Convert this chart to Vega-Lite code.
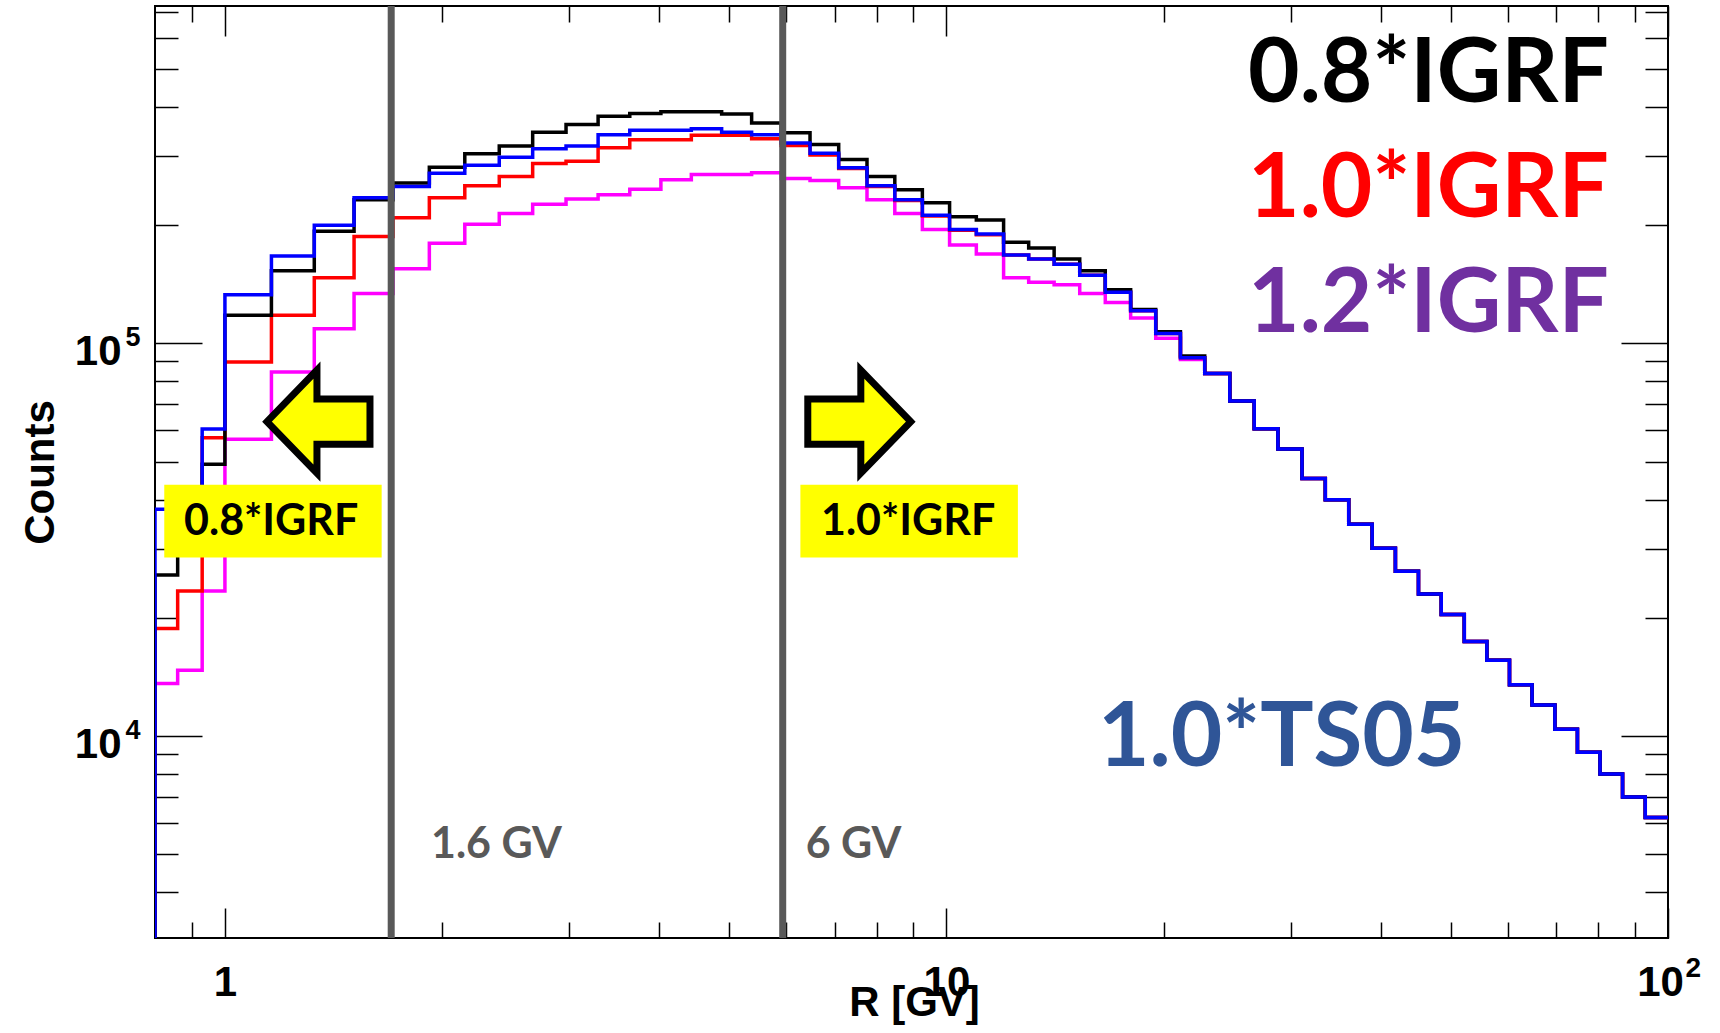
{
"$schema": "https://vega.github.io/schema/vega-lite/v6.json",
"width": 1513, "height": 932,
"autosize": {"type": "none"},
"padding": {"left": 155, "top": 6, "right": 52, "bottom": 95},
"background": "#ffffff",
"config": {"view": {"stroke": "#000000", "strokeWidth": 2}, "axis": {"grid": false, "domain": false, "tickColor": "#000000", "tickWidth": 1.5}},
"datasets": {
"hist": [
{"s":"1.2*IGRF","lo":0.8,"hi":0.86,"n":13600},{"s":"1.2*IGRF","lo":0.86,"hi":0.93,"n":14700},{"s":"1.2*IGRF","lo":0.93,"hi":1,"n":23400},{"s":"1.2*IGRF","lo":1,"hi":1.16,"n":57000},{"s":"1.2*IGRF","lo":1.16,"hi":1.33,"n":84600},{"s":"1.2*IGRF","lo":1.33,"hi":1.51,"n":109000},{"s":"1.2*IGRF","lo":1.51,"hi":1.71,"n":134000},{"s":"1.2*IGRF","lo":1.71,"hi":1.92,"n":155000},{"s":"1.2*IGRF","lo":1.92,"hi":2.15,"n":180000},{"s":"1.2*IGRF","lo":2.15,"hi":2.4,"n":201000},{"s":"1.2*IGRF","lo":2.4,"hi":2.67,"n":214000},{"s":"1.2*IGRF","lo":2.67,"hi":2.97,"n":226000},{"s":"1.2*IGRF","lo":2.97,"hi":3.29,"n":233000},{"s":"1.2*IGRF","lo":3.29,"hi":3.64,"n":239000},{"s":"1.2*IGRF","lo":3.64,"hi":4.02,"n":247000},{"s":"1.2*IGRF","lo":4.02,"hi":4.43,"n":261000},{"s":"1.2*IGRF","lo":4.43,"hi":4.88,"n":269000},{"s":"1.2*IGRF","lo":4.88,"hi":5.37,"n":269000},{"s":"1.2*IGRF","lo":5.37,"hi":5.9,"n":272000},{"s":"1.2*IGRF","lo":5.9,"hi":6.47,"n":263000},{"s":"1.2*IGRF","lo":6.47,"hi":7.09,"n":260000},{"s":"1.2*IGRF","lo":7.09,"hi":7.76,"n":249000},{"s":"1.2*IGRF","lo":7.76,"hi":8.48,"n":232000},{"s":"1.2*IGRF","lo":8.48,"hi":9.26,"n":214000},{"s":"1.2*IGRF","lo":9.26,"hi":10.1,"n":195000},{"s":"1.2*IGRF","lo":10.1,"hi":11,"n":178000},{"s":"1.2*IGRF","lo":11,"hi":12,"n":169000},{"s":"1.2*IGRF","lo":12,"hi":13,"n":147000},{"s":"1.2*IGRF","lo":13,"hi":14.1,"n":143000},{"s":"1.2*IGRF","lo":14.1,"hi":15.3,"n":141000},{"s":"1.2*IGRF","lo":15.3,"hi":16.6,"n":134000},{"s":"1.2*IGRF","lo":16.6,"hi":18,"n":127000},{"s":"1.2*IGRF","lo":18,"hi":19.5,"n":116000},{"s":"1.2*IGRF","lo":19.5,"hi":21.1,"n":103000},{"s":"1.2*IGRF","lo":21.1,"hi":22.8,"n":91000},{"s":"1.2*IGRF","lo":22.8,"hi":24.7,"n":83800},{"s":"1.2*IGRF","lo":24.7,"hi":26.7,"n":71300},{"s":"1.2*IGRF","lo":26.7,"hi":28.8,"n":60600},{"s":"1.2*IGRF","lo":28.8,"hi":31.1,"n":53800},{"s":"1.2*IGRF","lo":31.1,"hi":33.5,"n":45300},{"s":"1.2*IGRF","lo":33.5,"hi":36.1,"n":40000},{"s":"1.2*IGRF","lo":36.1,"hi":38.9,"n":34600},{"s":"1.2*IGRF","lo":38.9,"hi":41.9,"n":30100},{"s":"1.2*IGRF","lo":41.9,"hi":45.1,"n":26300},{"s":"1.2*IGRF","lo":45.1,"hi":48.5,"n":23000},{"s":"1.2*IGRF","lo":48.5,"hi":52.2,"n":20400},{"s":"1.2*IGRF","lo":52.2,"hi":56.1,"n":17400},{"s":"1.2*IGRF","lo":56.1,"hi":60.3,"n":15600},{"s":"1.2*IGRF","lo":60.3,"hi":64.8,"n":13500},{"s":"1.2*IGRF","lo":64.8,"hi":69.7,"n":12000},{"s":"1.2*IGRF","lo":69.7,"hi":74.9,"n":10400},{"s":"1.2*IGRF","lo":74.9,"hi":80.5,"n":9100},{"s":"1.2*IGRF","lo":80.5,"hi":86.5,"n":8000},{"s":"1.2*IGRF","lo":86.5,"hi":93,"n":7000},{"s":"1.2*IGRF","lo":93,"hi":100,"n":6200},
{"s":"1.0*IGRF","lo":0.8,"hi":0.86,"n":18800},{"s":"1.0*IGRF","lo":0.86,"hi":0.93,"n":23400},{"s":"1.0*IGRF","lo":0.93,"hi":1,"n":57500},{"s":"1.0*IGRF","lo":1,"hi":1.16,"n":89700},{"s":"1.0*IGRF","lo":1.16,"hi":1.33,"n":118000},{"s":"1.0*IGRF","lo":1.33,"hi":1.51,"n":147000},{"s":"1.0*IGRF","lo":1.51,"hi":1.71,"n":187000},{"s":"1.0*IGRF","lo":1.71,"hi":1.92,"n":209000},{"s":"1.0*IGRF","lo":1.92,"hi":2.15,"n":235000},{"s":"1.0*IGRF","lo":2.15,"hi":2.4,"n":252000},{"s":"1.0*IGRF","lo":2.4,"hi":2.67,"n":266000},{"s":"1.0*IGRF","lo":2.67,"hi":2.97,"n":287000},{"s":"1.0*IGRF","lo":2.97,"hi":3.29,"n":291000},{"s":"1.0*IGRF","lo":3.29,"hi":3.64,"n":315000},{"s":"1.0*IGRF","lo":3.64,"hi":4.02,"n":330000},{"s":"1.0*IGRF","lo":4.02,"hi":4.43,"n":330000},{"s":"1.0*IGRF","lo":4.43,"hi":4.88,"n":339000},{"s":"1.0*IGRF","lo":4.88,"hi":5.37,"n":339000},{"s":"1.0*IGRF","lo":5.37,"hi":5.9,"n":332000},{"s":"1.0*IGRF","lo":5.9,"hi":6.47,"n":319000},{"s":"1.0*IGRF","lo":6.47,"hi":7.09,"n":302000},{"s":"1.0*IGRF","lo":7.09,"hi":7.76,"n":279000},{"s":"1.0*IGRF","lo":7.76,"hi":8.48,"n":251000},{"s":"1.0*IGRF","lo":8.48,"hi":9.26,"n":231000},{"s":"1.0*IGRF","lo":9.26,"hi":10.1,"n":211000},{"s":"1.0*IGRF","lo":10.1,"hi":11,"n":194000},{"s":"1.0*IGRF","lo":11,"hi":12,"n":189000},{"s":"1.0*IGRF","lo":12,"hi":13,"n":168000},{"s":"1.0*IGRF","lo":13,"hi":14.1,"n":164000},{"s":"1.0*IGRF","lo":14.1,"hi":15.3,"n":159000},{"s":"1.0*IGRF","lo":15.3,"hi":16.6,"n":149000},{"s":"1.0*IGRF","lo":16.6,"hi":18,"n":135000},{"s":"1.0*IGRF","lo":18,"hi":19.5,"n":121000},{"s":"1.0*IGRF","lo":19.5,"hi":21.1,"n":106000},{"s":"1.0*IGRF","lo":21.1,"hi":22.8,"n":91900},{"s":"1.0*IGRF","lo":22.8,"hi":24.7,"n":83800},{"s":"1.0*IGRF","lo":24.7,"hi":26.7,"n":71300},{"s":"1.0*IGRF","lo":26.7,"hi":28.8,"n":60600},{"s":"1.0*IGRF","lo":28.8,"hi":31.1,"n":53800},{"s":"1.0*IGRF","lo":31.1,"hi":33.5,"n":45300},{"s":"1.0*IGRF","lo":33.5,"hi":36.1,"n":40000},{"s":"1.0*IGRF","lo":36.1,"hi":38.9,"n":34600},{"s":"1.0*IGRF","lo":38.9,"hi":41.9,"n":30100},{"s":"1.0*IGRF","lo":41.9,"hi":45.1,"n":26300},{"s":"1.0*IGRF","lo":45.1,"hi":48.5,"n":23000},{"s":"1.0*IGRF","lo":48.5,"hi":52.2,"n":20400},{"s":"1.0*IGRF","lo":52.2,"hi":56.1,"n":17400},{"s":"1.0*IGRF","lo":56.1,"hi":60.3,"n":15600},{"s":"1.0*IGRF","lo":60.3,"hi":64.8,"n":13500},{"s":"1.0*IGRF","lo":64.8,"hi":69.7,"n":12000},{"s":"1.0*IGRF","lo":69.7,"hi":74.9,"n":10400},{"s":"1.0*IGRF","lo":74.9,"hi":80.5,"n":9100},{"s":"1.0*IGRF","lo":80.5,"hi":86.5,"n":8000},{"s":"1.0*IGRF","lo":86.5,"hi":93,"n":7000},{"s":"1.0*IGRF","lo":93,"hi":100,"n":6200},
{"s":"0.8*IGRF","lo":0.8,"hi":0.86,"n":25700},{"s":"0.8*IGRF","lo":0.86,"hi":0.93,"n":36000},{"s":"0.8*IGRF","lo":0.93,"hi":1,"n":49200},{"s":"0.8*IGRF","lo":1,"hi":1.16,"n":118000},{"s":"0.8*IGRF","lo":1.16,"hi":1.33,"n":153000},{"s":"0.8*IGRF","lo":1.33,"hi":1.51,"n":193000},{"s":"0.8*IGRF","lo":1.51,"hi":1.71,"n":232000},{"s":"0.8*IGRF","lo":1.71,"hi":1.92,"n":256000},{"s":"0.8*IGRF","lo":1.92,"hi":2.15,"n":281000},{"s":"0.8*IGRF","lo":2.15,"hi":2.4,"n":304000},{"s":"0.8*IGRF","lo":2.4,"hi":2.67,"n":318000},{"s":"0.8*IGRF","lo":2.67,"hi":2.97,"n":345000},{"s":"0.8*IGRF","lo":2.97,"hi":3.29,"n":361000},{"s":"0.8*IGRF","lo":3.29,"hi":3.64,"n":379000},{"s":"0.8*IGRF","lo":3.64,"hi":4.02,"n":385000},{"s":"0.8*IGRF","lo":4.02,"hi":4.43,"n":389000},{"s":"0.8*IGRF","lo":4.43,"hi":4.88,"n":389000},{"s":"0.8*IGRF","lo":4.88,"hi":5.37,"n":384000},{"s":"0.8*IGRF","lo":5.37,"hi":5.9,"n":364000},{"s":"0.8*IGRF","lo":5.9,"hi":6.47,"n":344000},{"s":"0.8*IGRF","lo":6.47,"hi":7.09,"n":321000},{"s":"0.8*IGRF","lo":7.09,"hi":7.76,"n":294000},{"s":"0.8*IGRF","lo":7.76,"hi":8.48,"n":266000},{"s":"0.8*IGRF","lo":8.48,"hi":9.26,"n":246000},{"s":"0.8*IGRF","lo":9.26,"hi":10.1,"n":228000},{"s":"0.8*IGRF","lo":10.1,"hi":11,"n":210000},{"s":"0.8*IGRF","lo":11,"hi":12,"n":206000},{"s":"0.8*IGRF","lo":12,"hi":13,"n":181000},{"s":"0.8*IGRF","lo":13,"hi":14.1,"n":175000},{"s":"0.8*IGRF","lo":14.1,"hi":15.3,"n":164000},{"s":"0.8*IGRF","lo":15.3,"hi":16.6,"n":153000},{"s":"0.8*IGRF","lo":16.6,"hi":18,"n":137000},{"s":"0.8*IGRF","lo":18,"hi":19.5,"n":122000},{"s":"0.8*IGRF","lo":19.5,"hi":21.1,"n":107000},{"s":"0.8*IGRF","lo":21.1,"hi":22.8,"n":92800},{"s":"0.8*IGRF","lo":22.8,"hi":24.7,"n":83800},{"s":"0.8*IGRF","lo":24.7,"hi":26.7,"n":71300},{"s":"0.8*IGRF","lo":26.7,"hi":28.8,"n":60600},{"s":"0.8*IGRF","lo":28.8,"hi":31.1,"n":53800},{"s":"0.8*IGRF","lo":31.1,"hi":33.5,"n":45300},{"s":"0.8*IGRF","lo":33.5,"hi":36.1,"n":40000},{"s":"0.8*IGRF","lo":36.1,"hi":38.9,"n":34600},{"s":"0.8*IGRF","lo":38.9,"hi":41.9,"n":30100},{"s":"0.8*IGRF","lo":41.9,"hi":45.1,"n":26300},{"s":"0.8*IGRF","lo":45.1,"hi":48.5,"n":23000},{"s":"0.8*IGRF","lo":48.5,"hi":52.2,"n":20400},{"s":"0.8*IGRF","lo":52.2,"hi":56.1,"n":17400},{"s":"0.8*IGRF","lo":56.1,"hi":60.3,"n":15600},{"s":"0.8*IGRF","lo":60.3,"hi":64.8,"n":13500},{"s":"0.8*IGRF","lo":64.8,"hi":69.7,"n":12000},{"s":"0.8*IGRF","lo":69.7,"hi":74.9,"n":10400},{"s":"0.8*IGRF","lo":74.9,"hi":80.5,"n":9100},{"s":"0.8*IGRF","lo":80.5,"hi":86.5,"n":8000},{"s":"0.8*IGRF","lo":86.5,"hi":93,"n":7000},{"s":"0.8*IGRF","lo":93,"hi":100,"n":6200},
{"s":"1.0*TS05","lo":0.8,"hi":0.86,"n":37800},{"s":"1.0*TS05","lo":0.86,"hi":0.93,"n":40000},{"s":"1.0*TS05","lo":0.93,"hi":1,"n":60500},{"s":"1.0*TS05","lo":1,"hi":1.16,"n":133000},{"s":"1.0*TS05","lo":1.16,"hi":1.33,"n":167000},{"s":"1.0*TS05","lo":1.33,"hi":1.51,"n":200000},{"s":"1.0*TS05","lo":1.51,"hi":1.71,"n":235000},{"s":"1.0*TS05","lo":1.71,"hi":1.92,"n":251000},{"s":"1.0*TS05","lo":1.92,"hi":2.15,"n":271000},{"s":"1.0*TS05","lo":2.15,"hi":2.4,"n":284000},{"s":"1.0*TS05","lo":2.4,"hi":2.67,"n":298000},{"s":"1.0*TS05","lo":2.67,"hi":2.97,"n":313000},{"s":"1.0*TS05","lo":2.97,"hi":3.29,"n":318000},{"s":"1.0*TS05","lo":3.29,"hi":3.64,"n":340000},{"s":"1.0*TS05","lo":3.64,"hi":4.02,"n":349000},{"s":"1.0*TS05","lo":4.02,"hi":4.43,"n":349000},{"s":"1.0*TS05","lo":4.43,"hi":4.88,"n":352000},{"s":"1.0*TS05","lo":4.88,"hi":5.37,"n":345000},{"s":"1.0*TS05","lo":5.37,"hi":5.9,"n":340000},{"s":"1.0*TS05","lo":5.9,"hi":6.47,"n":324000},{"s":"1.0*TS05","lo":6.47,"hi":7.09,"n":305000},{"s":"1.0*TS05","lo":7.09,"hi":7.76,"n":280000},{"s":"1.0*TS05","lo":7.76,"hi":8.48,"n":252000},{"s":"1.0*TS05","lo":8.48,"hi":9.26,"n":232000},{"s":"1.0*TS05","lo":9.26,"hi":10.1,"n":212000},{"s":"1.0*TS05","lo":10.1,"hi":11,"n":195000},{"s":"1.0*TS05","lo":11,"hi":12,"n":190000},{"s":"1.0*TS05","lo":12,"hi":13,"n":168000},{"s":"1.0*TS05","lo":13,"hi":14.1,"n":164000},{"s":"1.0*TS05","lo":14.1,"hi":15.3,"n":159000},{"s":"1.0*TS05","lo":15.3,"hi":16.6,"n":149000},{"s":"1.0*TS05","lo":16.6,"hi":18,"n":135000},{"s":"1.0*TS05","lo":18,"hi":19.5,"n":121000},{"s":"1.0*TS05","lo":19.5,"hi":21.1,"n":106000},{"s":"1.0*TS05","lo":21.1,"hi":22.8,"n":91900},{"s":"1.0*TS05","lo":22.8,"hi":24.7,"n":83800},{"s":"1.0*TS05","lo":24.7,"hi":26.7,"n":71300},{"s":"1.0*TS05","lo":26.7,"hi":28.8,"n":60600},{"s":"1.0*TS05","lo":28.8,"hi":31.1,"n":53800},{"s":"1.0*TS05","lo":31.1,"hi":33.5,"n":45300},{"s":"1.0*TS05","lo":33.5,"hi":36.1,"n":40000},{"s":"1.0*TS05","lo":36.1,"hi":38.9,"n":34600},{"s":"1.0*TS05","lo":38.9,"hi":41.9,"n":30100},{"s":"1.0*TS05","lo":41.9,"hi":45.1,"n":26300},{"s":"1.0*TS05","lo":45.1,"hi":48.5,"n":23000},{"s":"1.0*TS05","lo":48.5,"hi":52.2,"n":20400},{"s":"1.0*TS05","lo":52.2,"hi":56.1,"n":17400},{"s":"1.0*TS05","lo":56.1,"hi":60.3,"n":15600},{"s":"1.0*TS05","lo":60.3,"hi":64.8,"n":13500},{"s":"1.0*TS05","lo":64.8,"hi":69.7,"n":12000},{"s":"1.0*TS05","lo":69.7,"hi":74.9,"n":10400},{"s":"1.0*TS05","lo":74.9,"hi":80.5,"n":9100},{"s":"1.0*TS05","lo":80.5,"hi":86.5,"n":8000},{"s":"1.0*TS05","lo":86.5,"hi":93,"n":7000},{"s":"1.0*TS05","lo":93,"hi":100,"n":6200}
],
"cut": [{"R": 1.7}, {"R": 5.93}],
"cutlab": [{"t": "1.6 GV", "R": 1.93, "c": 4893}, {"t": "6 GV", "R": 6.38, "c": 4893}],
"boxes": [{"x1": 0.824, "x2": 1.649, "y1": 28470, "y2": 43620}, {"x1": 6.274, "x2": 12.56, "y1": 28470, "y2": 43620}],
"boxlab": [{"t": "0.8*IGRF", "R": 1.159, "c": 32480}, {"t": "1.0*IGRF", "R": 8.848, "c": 32480}],
"arrows": [{"dir": "left", "R": 1.348, "c": 63190}, {"dir": "right", "R": 7.571, "c": 63190}],
"labels": [{"t": "0.8*IGRF", "R": 82.8, "c": 411800}, {"t": "1.0*IGRF", "R": 82.8, "c": 210400}, {"t": "1.2*IGRF", "R": 82.8, "c": 107200}, {"t": "1.0*TS05", "R": 52.4, "c": 8390}]
},
"layer": [
{
"data": {"name": "hist"},
"transform": [{"fold": ["lo", "hi"], "as": ["edge", "R"]}],
"mark": {"type": "line", "strokeWidth": 3.5, "clip": true, "strokeJoin": "miter"},
"encoding": {
"x": {"field": "R", "type": "quantitative", "scale": {"type": "log", "domain": [0.8, 100], "nice": false},
 "axis": {"orient": "bottom", "values": [0.9,1,2,3,4,5,6,7,8,9,10,20,30,40,50,60,70,80,90,100],
  "labelExpr": "datum.value == 1 ? '1' : datum.value == 10 ? '10' : datum.value == 100 ? '10' : ''",
  "tickSize": {"condition": {"test": "datum.value == 1 || datum.value == 10 || datum.value == 100", "value": -30}, "value": -16},
  "labelOffset": {"condition": {"test": "datum.value == 100", "value": -8}, "value": 0},
  "labelFont": "Liberation Sans", "labelFontWeight": "bold", "labelFontSize": 42, "labelColor": "#000000",
  "labelBaseline": "alphabetic", "labelAlign": "center", "labelPadding": 87, "labelFlush": false, "labelOverlap": false, "labelBound": false,
  "title": "R [GV]", "titleFont": "Liberation Sans", "titleFontWeight": "bold", "titleFontSize": 42, "titleColor": "#000000",
  "titleX": 759, "titleY": 77, "titleBaseline": "alphabetic", "titleAlign": "center"}},
"y": {"field": "n", "type": "quantitative", "scale": {"type": "log", "domain": [3060, 723000], "nice": false},
 "axis": {"orient": "left", "values": [4000,5000,6000,7000,8000,9000,10000,20000,30000,40000,50000,60000,70000,80000,90000,100000,200000,300000,400000,500000,600000,700000],
  "labelExpr": "datum.value == 10000 ? '10' : datum.value == 100000 ? '10' : ''",
  "tickSize": {"condition": {"test": "datum.value == 10000 || datum.value == 100000", "value": -47}, "value": -23},
  "labelFont": "Liberation Sans", "labelFontWeight": "bold", "labelFontSize": 42, "labelColor": "#000000",
  "labelBaseline": "alphabetic", "labelAlign": "right", "labelPadding": 81, "labelOffset": 21, "labelOverlap": false, "labelBound": false, "labelFlush": false,
  "title": "Counts", "titleFont": "Liberation Sans", "titleFontWeight": "bold", "titleFontSize": 42, "titleColor": "#000000",
  "titleX": -102, "titleY": 466, "titleAngle": -90, "titleBaseline": "alphabetic", "titleAlign": "center"}},
"color": {"field": "s", "type": "nominal", "scale": {"domain": ["1.2*IGRF", "1.0*IGRF", "0.8*IGRF", "1.0*TS05"], "range": ["#FF00FF", "#FF0000", "#000000", "#0000FF"]}, "legend": null},
"order": [{"field": "R", "type": "quantitative"}, {"field": "edge", "type": "nominal"}]
}
},
{
"data": {"name": "hist"},
"transform": [{"filter": "datum.lo == 0.8"}],
"mark": {"type": "rule", "strokeWidth": 3.5, "clip": true},
"encoding": {
"x": {"field": "lo", "type": "quantitative", "scale": {"type": "log", "domain": [0.8, 100], "nice": false}, "axis": null},
"y": {"field": "n", "type": "quantitative", "scale": {"type": "log", "domain": [3060, 723000], "nice": false}, "axis": null},
"y2": {"datum": 3060},
"color": {"field": "s", "type": "nominal", "scale": {"domain": ["1.2*IGRF", "1.0*IGRF", "0.8*IGRF", "1.0*TS05"], "range": ["#FF00FF", "#FF0000", "#000000", "#0000FF"]}, "legend": null}
}
},
{
"data": {"name": "cut"},
"mark": {"type": "rule", "strokeWidth": 7, "color": "#595959"},
"encoding": {
"x": {"field": "R", "type": "quantitative", "scale": {"type": "log", "domain": [0.8, 100], "nice": false}, "axis": null}
}
},
{
"data": {"name": "cutlab"},
"mark": {"type": "text", "align": "left", "baseline": "alphabetic", "font": "Lato", "fontWeight": "bold", "fontSize": 43, "color": "#595959"},
"encoding": {
"x": {"field": "R", "type": "quantitative", "scale": {"type": "log", "domain": [0.8, 100], "nice": false}, "axis": null},
"y": {"field": "c", "type": "quantitative", "scale": {"type": "log", "domain": [3060, 723000], "nice": false}, "axis": null},
"text": {"field": "t"}
}
},
{
"data": {"name": "boxes"},
"mark": {"type": "rect", "color": "#FFFF00", "opacity": 1},
"encoding": {
"x": {"field": "x1", "type": "quantitative", "scale": {"type": "log", "domain": [0.8, 100], "nice": false}, "axis": null},
"x2": {"field": "x2"},
"y": {"field": "y1", "type": "quantitative", "scale": {"type": "log", "domain": [3060, 723000], "nice": false}, "axis": null},
"y2": {"field": "y2"}
}
},
{
"data": {"name": "boxlab"},
"mark": {"type": "text", "align": "center", "baseline": "alphabetic", "font": "Lato", "fontWeight": "bold", "fontSize": 43, "color": "#000000"},
"encoding": {
"x": {"field": "R", "type": "quantitative", "scale": {"type": "log", "domain": [0.8, 100], "nice": false}, "axis": null},
"y": {"field": "c", "type": "quantitative", "scale": {"type": "log", "domain": [3060, 723000], "nice": false}, "axis": null},
"text": {"field": "t"}
}
},
{
"data": {"name": "arrows"},
"mark": {"type": "point", "filled": true, "fill": "#FFFF00", "stroke": "#000000", "strokeWidth": 7, "size": 10600, "opacity": 1, "fillOpacity": 1, "strokeOpacity": 1, "strokeJoin": "miter"},
"encoding": {
"x": {"field": "R", "type": "quantitative", "scale": {"type": "log", "domain": [0.8, 100], "nice": false},
 "axis": {"orient": "bottom", "values": [100], "labelExpr": "'2'", "ticks": false, "tickSize": 0, "title": null,
  "labelFont": "Liberation Sans", "labelFontWeight": "bold", "labelFontSize": 28, "labelColor": "#000000",
  "labelAlign": "left", "labelBaseline": "alphabetic", "labelOffset": 17, "labelPadding": 38, "labelFlush": false, "labelOverlap": false, "labelBound": false}},
"y": {"field": "c", "type": "quantitative", "scale": {"type": "log", "domain": [3060, 723000], "nice": false},
 "axis": {"orient": "left", "values": [10000, 100000], "labelExpr": "datum.value == 10000 ? '4' : '5'", "ticks": false, "tickSize": 0, "title": null,
  "labelFont": "Liberation Sans", "labelFontWeight": "bold", "labelFontSize": 27, "labelColor": "#000000",
  "labelAlign": "left", "labelBaseline": "alphabetic", "labelOffset": 2, "labelPadding": 30, "labelFlush": false, "labelOverlap": false, "labelBound": false}},
"shape": {"field": "dir", "type": "nominal", "scale": {"domain": ["left", "right"], "range": ["M-1,0L-0.03,-1L-0.03,-0.44L1,-0.44L1,0.44L-0.03,0.44L-0.03,1Z", "M1,0L0.03,-1L0.03,-0.44L-1,-0.44L-1,0.44L0.03,0.44L0.03,1Z"]}, "legend": null}
}
},
{
"data": {"name": "labels"},
"mark": {"type": "text", "align": "right", "baseline": "alphabetic", "font": "Lato", "fontWeight": "bold", "fontSize": 89},
"encoding": {
"x": {"field": "R", "type": "quantitative", "scale": {"type": "log", "domain": [0.8, 100], "nice": false},
 "axis": {"orient": "top", "values": [0.9,1,2,3,4,5,6,7,8,9,10,20,30,40,50,60,70,80,90,100], "labels": false, "title": null,
  "tickSize": {"condition": {"test": "datum.value == 1 || datum.value == 10 || datum.value == 100", "value": -30}, "value": -16}}},
"y": {"field": "c", "type": "quantitative", "scale": {"type": "log", "domain": [3060, 723000], "nice": false},
 "axis": {"orient": "right", "values": [4000,5000,6000,7000,8000,9000,10000,20000,30000,40000,50000,60000,70000,80000,90000,100000,200000,300000,400000,500000,600000,700000], "labels": false, "title": null,
  "tickSize": {"condition": {"test": "datum.value == 10000 || datum.value == 100000", "value": -47}, "value": -23}}},
"text": {"field": "t"},
"color": {"field": "t", "type": "nominal", "scale": {"domain": ["0.8*IGRF", "1.0*IGRF", "1.2*IGRF", "1.0*TS05"], "range": ["#000000", "#FF0000", "#7030A0", "#2F5597"]}, "legend": null}
}
}
],
"resolve": {"scale": {"color": "independent", "shape": "independent"}, "axis": {"x": "independent", "y": "independent"}}
}
